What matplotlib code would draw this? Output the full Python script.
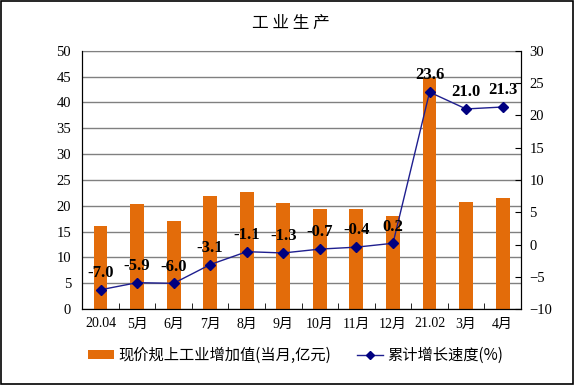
import matplotlib
matplotlib.use("Agg")
import matplotlib.pyplot as plt
import numpy as np
from matplotlib.lines import Line2D
from matplotlib.patches import Patch

categories = ["20.04", "5月", "6月", "7月", "8月", "9月", "10月", "11月", "12月", "21.02", "3月", "4月"]
bar_values = [16.0, 20.3, 17.1, 21.9, 22.7, 20.5, 19.4, 19.4, 18.0, 44.7, 20.7, 21.6]
growth = [-7.0, -5.9, -6.0, -3.1, -1.1, -1.3, -0.7, -0.4, 0.2, 23.6, 21.0, 21.3]
bar_label = "现价规上工业增加值(当月,亿元)"
line_label = "累计增长速度(%)"
title = "工业生产"

serif = ["Liberation Serif", "Noto Sans CJK SC"]
cjk = ["Noto Sans CJK SC", "DejaVu Sans"]

fig = plt.figure(figsize=(5.75, 3.85), dpi=100)
ax = fig.add_axes([0.143, 0.197, 0.763, 0.671])
x = np.arange(len(categories))

ax.bar(x, bar_values, width=0.38, color="#E36C0A", zorder=2)
ax.set_ylim(0, 50)
ax.set_yticks(np.arange(0, 51, 5))
ax.set_xlim(-0.5, len(categories) - 0.5)
ax.yaxis.grid(True, color="#808080", linewidth=1.0, zorder=0)
ax.set_axisbelow(True)
ax.set_xticks(x)
ax.set_xticklabels(categories, fontfamily=serif, fontsize=10)
ax.set_xticks(np.arange(-0.5, len(categories), 1), minor=True)
ax.tick_params(axis="x", which="major", length=0, pad=6)
ax.tick_params(axis="x", which="minor", direction="in", length=4, color="black")
ax.tick_params(axis="y", length=0, pad=8)
for lbl in ax.get_yticklabels():
    lbl.set_fontfamily(serif)
    lbl.set_fontsize(10.5)
ax.spines["top"].set_color("#808080")
for s in ["left", "bottom", "right"]:
    ax.spines[s].set_color("black")

ax2 = ax.twinx()
ax2.plot(x, growth, color="#1F1F8F", linewidth=1.0, marker="D", markersize=5,
         markerfacecolor="#000080", markeredgecolor="#000080", zorder=3)
ax2.set_ylim(-10, 30)
ax2.set_yticks(np.arange(-10, 31, 5))
ax2.tick_params(axis="y", direction="in", length=4, pad=6)
for lbl in ax2.get_yticklabels():
    lbl.set_fontfamily(serif)
    lbl.set_fontsize(10.5)
ax2.spines["top"].set_visible(False)
for i, v in enumerate(growth):
    ax2.annotate(f"{v:.1f}", (x[i], v), xytext=(0, 12), textcoords="offset points",
                 ha="center", va="center", fontfamily=serif, fontsize=12,
                 fontweight="bold", color="black")

fig.text(0.505, 0.94, "工 业 生 产", ha="center", va="center", fontfamily=cjk, fontsize=12)

handles = [Patch(facecolor="#E36C0A", edgecolor="none"),
           Line2D([0], [0], color="#1F1F8F", marker="D", markersize=4,
                  markerfacecolor="#000080", markeredgecolor="#000080", linewidth=1.0)]
fig.legend(handles, [bar_label, line_label], loc="center", bbox_to_anchor=(0.514, 0.077),
           ncol=2, frameon=False, prop={"family": cjk, "size": 11},
           handlelength=1.7, handleheight=0.5, columnspacing=1.65, handletextpad=0.3)

fig.patches.append(plt.Rectangle((0.002, 0.003), 0.995, 0.994, transform=fig.transFigure,
                                 fill=False, edgecolor="black", linewidth=1.2))
fig.savefig("out.png", dpi=100)
